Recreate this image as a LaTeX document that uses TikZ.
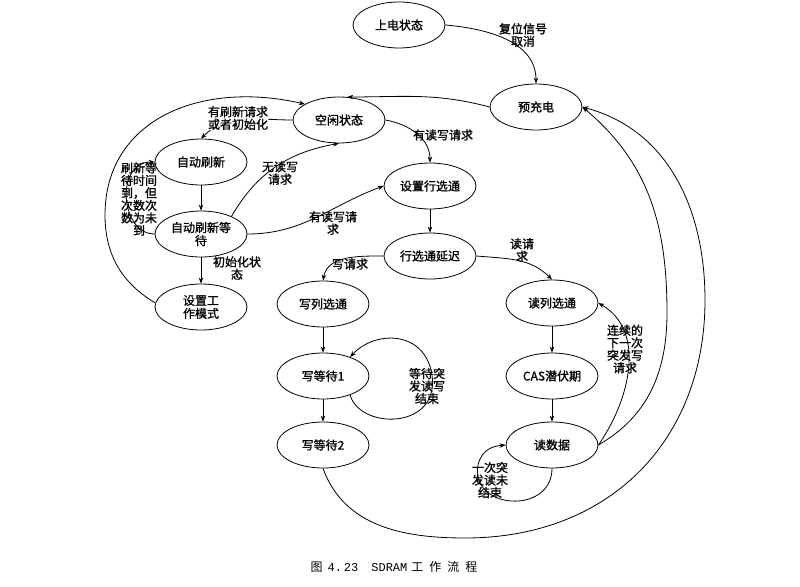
\documentclass[tikz,border=0pt]{standalone}
\usepackage{fontspec}
\setmainfont{Noto Sans CJK SC}[FakeBold=1.2]
\newfontfamily\capfont{Noto Sans CJK SC}
\newfontfamily\capmono{Liberation Mono}
\usetikzlibrary{arrows.meta,shapes.geometric}

\begin{document}
\begin{tikzpicture}[x=1pt,y=-1pt,
    state/.style={draw,ellipse,line width=0.8pt,minimum width=92pt,minimum height=46pt,inner sep=0pt,align=center,font=\fontsize{12}{13}\selectfont},
    cond/.style={align=center,inner sep=0pt,font=\fontsize{12}{12.5}\selectfont},
    flow/.style={->,line width=0.8pt},
    >={Stealth[length=6pt,width=4.5pt]}]

  \useasboundingbox (0,0) rectangle (800,586);

  % states
  \node [state] at(399,25) (power_on) {上电状态};
  \node [state] at(536,107) (precharge) {预充电};
  \node [state] at(339,120) (idle) {空闲状态};
  \node [state] at(201,162) (auto_refresh) {自动刷新};
  \node [state] at(201,234) (refresh_wait) {自动刷新等\\待};
  \node [state] at(201,307) (set_mode) {设置工\\作模式};
  \node [state] at(430,186) (set_row) {设置行选通};
  \node [state] at(430,256) (row_delay) {行选通延迟};
  \node [state] at(323,304) (write_col) {写列选通};
  \node [state] at(323,376) (write_wait_1) {写等待1};
  \node [state] at(323,445) (write_wait_2) {写等待2};
  \node [state] at(552,303) (read_col) {读列选通};
  \node [state] at(552,376) (cas_latency) {CAS潜伏期};
  \node [state] at(552,445) (read_data) {读数据};

  % straight steps
  \foreach \a/\b in {auto_refresh/refresh_wait, refresh_wait/set_mode, set_row/row_delay,
                     write_col/write_wait_1, write_wait_1/write_wait_2,
                     read_col/cas_latency, cas_latency/read_data}{
    \draw [flow] (\a) -- (\b);
  }

  % curved transitions
  \draw [flow] (power_on.east) to[out=-5,in=90] (precharge.north);
  \draw [flow] (precharge.west) to[out=165,in=0] (idle.70);
  \draw [flow] (idle.west) to[out=180,in=45] (auto_refresh.north);
  \draw [flow] (idle.east) to[out=-10,in=90] (set_row.north);
  \draw [flow] (refresh_wait.30) to[out=60,in=190] (idle.south);
  \draw [flow] (refresh_wait.east) to[out=0,in=200] (set_row.west);
  \draw [flow] (refresh_wait.west) .. controls (120,234) and (115,162) .. (auto_refresh.west);
  \draw [flow] (set_mode.175) .. controls (122,283) and (105,255) .. (105,215)
                              .. controls (105,120) and (200,80) .. (idle.155);
  \draw [flow] (row_delay.west) to[out=180,in=80] (write_col.north);
  \draw [flow] (row_delay.east) to[out=-5,in=135] (read_col.north);
  \draw [flow] (write_wait_1.-35) .. controls (360,430) and (440,430) .. (432,375)
                                  .. controls (425,330) and (375,330) .. (write_wait_1.35);
  \draw [flow] (write_wait_2.south) to[out=-70,in=180] (465,538)
               .. controls (610,538) and (705,440) .. (705,300) to[out=90,in=-15] (precharge.east);
  \draw [flow] (read_data.east) to[out=30,in=-90] (667,313) to[out=90,in=-40] (precharge.east);
  \draw [flow] (read_data.east) to[out=55,in=-30] (read_col.east);
  \draw [flow] (read_data.south) .. controls (552,515) and (470,510) .. (478,465)
                                 .. controls (482,448) and (495,446) .. (read_data.west);

  % conditions
  \node [cond] at(523,35) (reset_lbl) {复位信号\\取消};
  \node [cond,fill=white] at(238,118) (refresh_lbl) {有刷新请求\\或者初始化};
  \node [cond] at(443,135) (rw_lbl) {有读写请求};
  \node [cond] at(280,173) (no_rw_lbl) {无读写\\请求};
  \node [cond] at(333,223) (rw_wait_lbl) {有读写请\\求};
  \node [cond] at(139,199) (wait_lbl) {刷新等\\待时间\\到，但\\次数次\\数为未\\到};
  \node [cond] at(237,268) (init_lbl) {初始化状\\态};
  \node [cond] at(350,264) (wr_lbl) {写请求};
  \node [cond] at(522,250) (rd_lbl) {读请\\求};
  \node [cond] at(427,386) (wr_burst_lbl) {等待突\\发读写\\结束};
  \node [cond] at(625,349) (next_wr_lbl) {连续的\\下一次\\突发写\\请求};
  \node [cond] at(490,480) (rd_burst_lbl) {一次突\\发读未\\结束};

  \node [font=\capfont\fontsize{12}{13}\selectfont] at(394,567) (caption) {图\hspace{5pt}{\capmono\fontsize{12}{13}\selectfont 4.\,23}\hspace{13pt}{\capmono\fontsize{12}{13}\selectfont SDRAM}\hspace{4pt}工\hspace{6pt}作\hspace{6pt}流\hspace{6pt}程};
\end{tikzpicture}
\end{document}
